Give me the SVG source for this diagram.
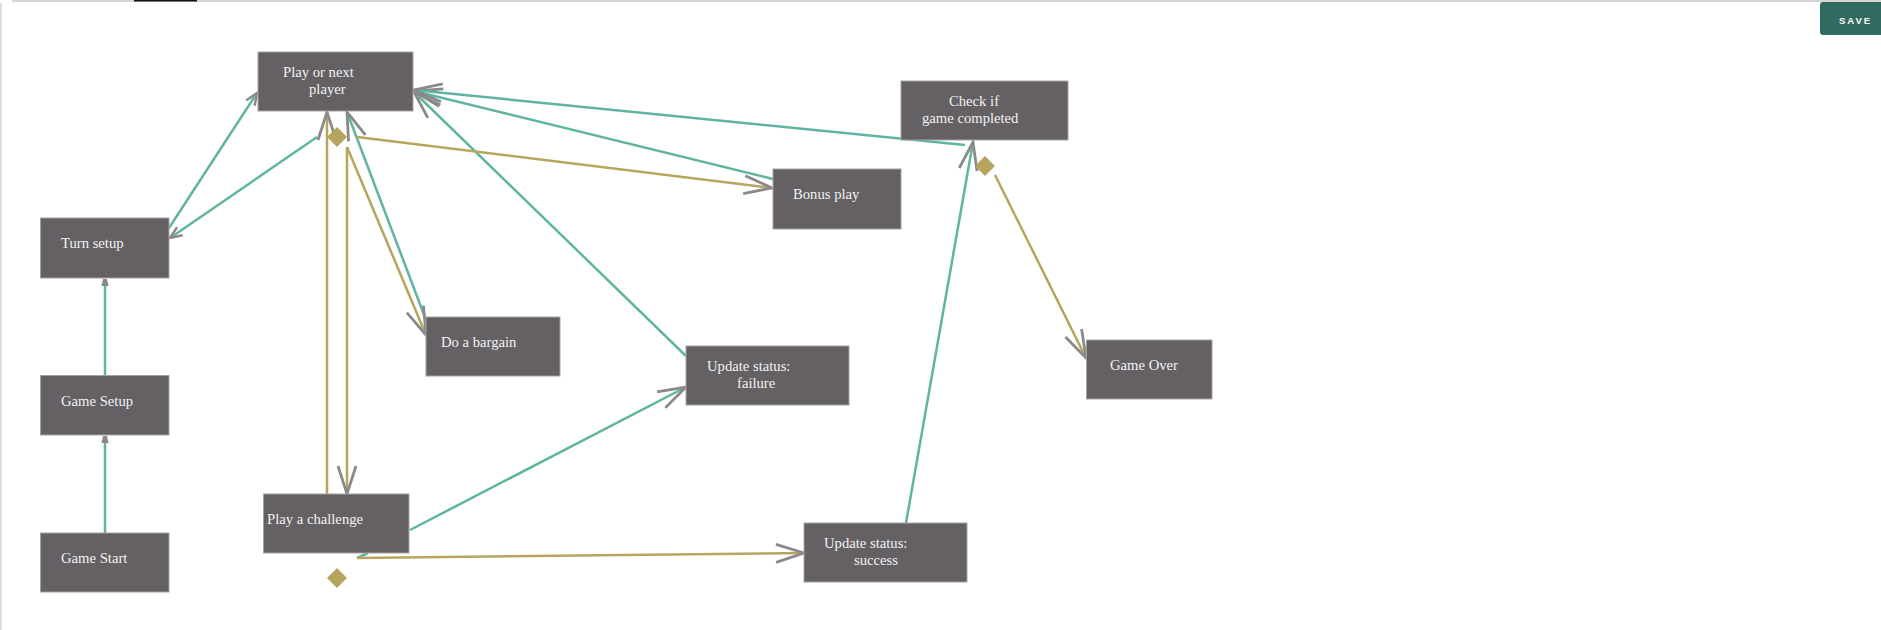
<svg xmlns="http://www.w3.org/2000/svg" width="1881" height="630" viewBox="0 0 1881 630">
  <defs>
    <style>
      .node rect { fill: #646064; stroke: #a3a3a3; stroke-width: 1; }
      .node text { font-family: "Liberation Serif", "Times New Roman", serif; font-size: 14.67px; fill: #f2f2f2; }
      .flow { fill: none; stroke: #5fb5a2; stroke-width: 2.5; }
      .cond { fill: none; stroke: #b7a55e; stroke-width: 2.5; }
      .diamond { fill: #b5a45e; }
      .btn-label { font-family: "Liberation Sans", Arial, sans-serif; font-size: 9.5px; fill: #ffffff; letter-spacing: 2px; font-weight: bold; }
    </style>
    <!-- open V arrowhead, drawn in user space -->
    <marker id="arrow" markerUnits="userSpaceOnUse" viewBox="-30 -12 32 24" refX="0" refY="0" markerWidth="32" markerHeight="24" orient="auto" overflow="visible">
      <path d="M-28,-9 L0,0 L-28,9" fill="none" stroke="#8a8a8a" stroke-width="2.8"/>
    </marker>
    <marker id="arrow-sm" markerUnits="userSpaceOnUse" viewBox="-14 -6 16 12" refX="0" refY="0" markerWidth="16" markerHeight="12" orient="auto" overflow="visible">
      <path d="M-12,-5 L0,0 L-12,5" fill="none" stroke="#8a8a8a" stroke-width="2.5"/>
    </marker>
    <marker id="tip" markerUnits="userSpaceOnUse" viewBox="-8 -5 9 10" refX="0" refY="0" markerWidth="9" markerHeight="10" orient="auto" overflow="visible">
      <path d="M-7,-3.5 L0,-2 L0,2 L-7,3.5 Z" fill="#8a8a8a"/>
    </marker>
  </defs>

  <rect x="0" y="0" width="1881" height="630" fill="#ffffff"/>
  <!-- canvas frame -->
  <rect x="12" y="0" width="1869" height="2" fill="#d6d6d6"/>
  <rect x="134" y="0" width="63" height="1.5" fill="#111111"/>
  <rect x="0" y="3" width="2" height="627" fill="#dedede"/>

  <!-- connectors -->
  <g id="connectors">
    <line class="flow" x1="105" y1="533" x2="105" y2="436" marker-end="url(#tip)"/>
    <line class="flow" x1="105" y1="375" x2="105" y2="279" marker-end="url(#tip)"/>
    <line class="flow" x1="169" y1="228" x2="257" y2="93" marker-end="url(#arrow-sm)"/>
    <line class="flow" x1="317" y1="137" x2="170" y2="238" marker-end="url(#arrow-sm)"/>
    <line class="flow" x1="426" y1="320" x2="347" y2="112" marker-end="url(#arrow)"/>
    <line class="flow" x1="773" y1="179" x2="414" y2="91" marker-end="url(#arrow)"/>
    <line class="flow" x1="965" y1="145" x2="414" y2="90" marker-end="url(#arrow)"/>
    <line class="flow" x1="686" y1="356" x2="414" y2="92" marker-end="url(#arrow)"/>
    <line class="flow" x1="410" y1="530" x2="686" y2="387" marker-end="url(#arrow)"/>
    <line class="flow" x1="906" y1="523" x2="973" y2="142" marker-end="url(#arrow)"/>
    <line class="flow" x1="357" y1="558" x2="368" y2="553"/>

    <line class="cond" x1="327" y1="494" x2="327" y2="112" marker-end="url(#arrow)"/>
    <line class="cond" x1="347" y1="147" x2="347" y2="494" marker-end="url(#arrow)"/>
    <line class="cond" x1="347" y1="147" x2="426" y2="335" marker-end="url(#arrow)"/>
    <line class="cond" x1="357" y1="137" x2="772" y2="188" marker-end="url(#arrow)"/>
    <line class="cond" x1="357" y1="558" x2="804" y2="553" marker-end="url(#arrow)"/>
    <line class="cond" x1="995" y1="175" x2="1086" y2="358" marker-end="url(#arrow)"/>

    <polygon class="diamond" points="337,127 347,137 337,147 327,137"/>
    <polygon class="diamond" points="337,568 347,578 337,588 327,578"/>
    <polygon class="diamond" points="985,156 995,166 985,176 975,166"/>
  </g>

  <!-- nodes -->
  <g id="play-or-next" class="node">
    <rect x="258" y="52" width="155" height="59"/>
    <text x="283" y="77">Play or next</text>
    <text x="309" y="94">player</text>
  </g>
  <g id="turn-setup" class="node">
    <rect x="40.5" y="218" width="128.5" height="60"/>
    <text x="61" y="248">Turn setup</text>
  </g>
  <g id="game-setup" class="node">
    <rect x="40.5" y="375.5" width="128.5" height="59.5"/>
    <text x="61" y="406">Game Setup</text>
  </g>
  <g id="game-start" class="node">
    <rect x="40.5" y="533" width="128.5" height="59"/>
    <text x="61" y="563">Game Start</text>
  </g>
  <g id="play-challenge" class="node">
    <rect x="263.5" y="494" width="145.5" height="59"/>
    <text x="267" y="524">Play a challenge</text>
  </g>
  <g id="do-bargain" class="node">
    <rect x="426" y="317" width="134" height="59"/>
    <text x="441" y="347">Do a bargain</text>
  </g>
  <g id="status-failure" class="node">
    <rect x="686" y="346" width="163" height="59"/>
    <text x="707" y="371">Update status:</text>
    <text x="737" y="388">failure</text>
  </g>
  <g id="status-success" class="node">
    <rect x="804" y="523" width="163" height="59"/>
    <text x="824" y="548">Update status:</text>
    <text x="854" y="565">success</text>
  </g>
  <g id="bonus-play" class="node">
    <rect x="773" y="169" width="128" height="60"/>
    <text x="793" y="199">Bonus play</text>
  </g>
  <g id="check-completed" class="node">
    <rect x="901" y="81" width="167" height="59"/>
    <text x="949" y="106">Check if</text>
    <text x="922" y="123">game completed</text>
  </g>
  <g id="game-over" class="node">
    <rect x="1086.5" y="340" width="125.5" height="59"/>
    <text x="1110" y="370">Game Over</text>
  </g>

  <!-- toolbar button -->
  <g id="save-button">
    <rect x="1820" y="2" width="70" height="33" rx="3" fill="#316a5e"/>
    <text class="btn-label" x="1839" y="23.5">SAVE</text>
  </g>
</svg>
